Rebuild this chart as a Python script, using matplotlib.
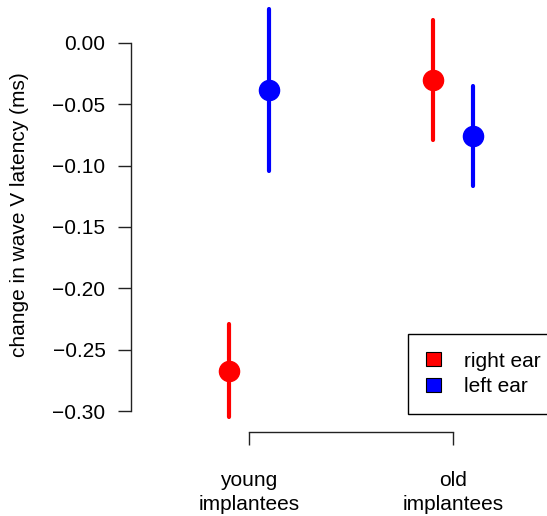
import matplotlib
matplotlib.use("Agg")
import matplotlib.pyplot as plt
from matplotlib.patches import Patch
from matplotlib.ticker import FuncFormatter
import numpy as np

plt.rcParams.update({"font.family": ["Liberation Sans", "DejaVu Sans"]})

RED = "#ff0000"
BLUE = "#0000ff"

groups = ["young\nimplantees", "old\nimplantees"]
right_mean = [-0.267, -0.030]
right_lo = [-0.305, -0.079]
right_hi = [-0.229, 0.019]
left_mean = [-0.038, -0.076]
left_lo = [-0.104, -0.117]
left_hi = [0.028, -0.035]

W, H = 547, 516
fig = plt.figure(figsize=(W / 100, H / 100), dpi=100)
ax = fig.add_axes([131 / W, 1 - 432 / H, 416 / W, 432 / H])

xpos = np.arange(1, len(groups) + 1)
off = 0.1
for xs, m, lo, hi, c in [(xpos - off, right_mean, right_lo, right_hi, RED),
                         (xpos + off, left_mean, left_lo, left_hi, BLUE)]:
    for x, a, b in zip(xs, lo, hi):
        ax.plot([x, x], [a, b], color=c, lw=3, solid_capstyle="round", zorder=2, clip_on=False)
    ax.plot(xs, m, "o", color=c, ms=14.5, zorder=3, clip_on=False)

ax.set_xlim(0.422, 2.461)
ax.set_ylim(-0.3171, 0.0350)

for s in ["top", "right"]:
    ax.spines[s].set_visible(False)
ax.spines["left"].set_bounds(-0.30, 0.0)
ax.spines["bottom"].set_bounds(1, 2)
for s in ["left", "bottom"]:
    ax.spines[s].set_linewidth(1)
    ax.spines[s].set_color("#222222")

yt = np.round(np.arange(-0.30, 0.001, 0.05), 2)
ax.set_yticks(yt)
ax.yaxis.set_major_formatter(FuncFormatter(
    lambda v, p: f"{abs(v):.2f}" if abs(v) < 1e-9 else f"{v:.2f}".replace("-", "\u2212")))
ax.set_xticks(xpos)
ax.set_xticklabels(groups, linespacing=1.3)
ax.tick_params(axis="both", direction="out", length=9.4, width=1, color="#222222",
               labelsize=15, pad=9)
ax.tick_params(axis="x", pad=19)

fig.text(20 / W, 1 - 215 / H, "change in wave V latency (ms)", rotation=90,
         ha="center", va="center", fontsize=15)

handles = [Patch(facecolor=RED, edgecolor="black", lw=0.8),
           Patch(facecolor=BLUE, edgecolor="black", lw=0.8)]
leg = fig.legend(handles, ["right ear", "left ear"], loc="upper left",
                 bbox_to_anchor=(408 / W, 1 - 334 / H), bbox_transform=fig.transFigure,
                 fontsize=15, frameon=True, fancybox=False, edgecolor="black",
                 framealpha=1, borderaxespad=0, borderpad=0.85, handlelength=0.75,
                 handleheight=0.65, handletextpad=1.1, labelspacing=0.3)
leg.get_frame().set_linewidth(1)

fig.savefig("out.png", dpi=100)
